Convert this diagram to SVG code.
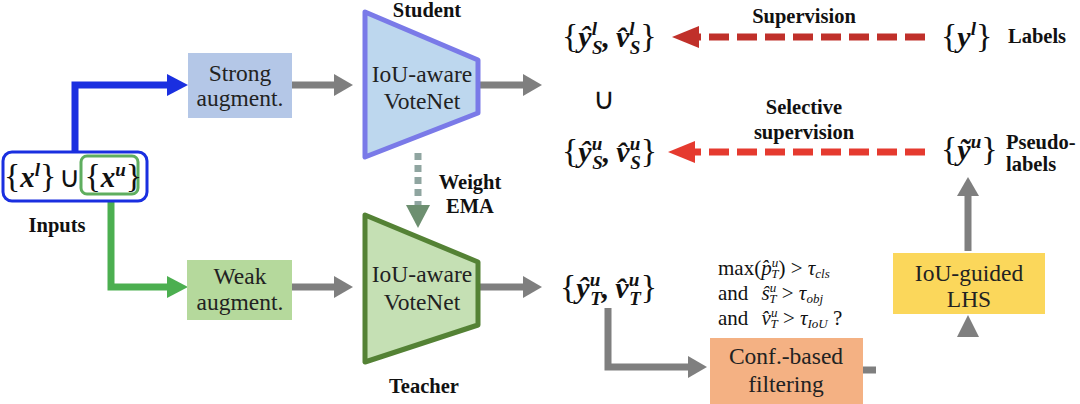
<svg xmlns="http://www.w3.org/2000/svg" width="1080" height="404" viewBox="0 0 1080 404">
<style>
.lbl{font-family:"Liberation Serif",serif;font-weight:bold;font-size:20.5px;fill:#111}
.box{font-family:"Liberation Serif",serif;font-size:23.5px;fill:#222}
.m{font-family:"Liberation Serif",serif;font-size:30px;font-weight:bold;font-style:italic;fill:#111}
.mi{font-family:"Liberation Serif",serif;font-size:29px;font-weight:bold;font-style:italic;fill:#111}
.br{font-weight:normal;font-style:normal;font-size:34px}
.op{font-weight:normal;font-style:normal}
.sc{font-size:19px}
.c{font-family:"Liberation Serif",serif;font-size:21px;fill:#111}
.ci{font-style:italic}
.cs{font-style:italic;font-size:13px}
.g{stroke:#7f7f7f;stroke-width:7;fill:none}
.rd{stroke-width:7;stroke-dasharray:20 8;fill:none}
</style>
<defs>
<marker id="ag" markerUnits="userSpaceOnUse" markerWidth="20" markerHeight="24" refX="0" refY="12" orient="auto"><path d="M0,1 L19,12 L0,23 Z" fill="#7f7f7f"/></marker>
<marker id="ab" markerUnits="userSpaceOnUse" markerWidth="22" markerHeight="24" refX="0" refY="12" orient="auto"><path d="M0,1 L21,12 L0,23 Z" fill="#1a2fe0"/></marker>
<marker id="agr" markerUnits="userSpaceOnUse" markerWidth="22" markerHeight="24" refX="0" refY="12" orient="auto"><path d="M0,1 L21,12 L0,23 Z" fill="#4caf50"/></marker>
<marker id="ar1" markerUnits="userSpaceOnUse" markerWidth="28" markerHeight="24" refX="0" refY="12" orient="auto"><path d="M0,1 L27,12 L0,23 Z" fill="#c0302a"/></marker>
<marker id="ar2" markerUnits="userSpaceOnUse" markerWidth="28" markerHeight="24" refX="0" refY="12" orient="auto"><path d="M0,1 L27,12 L0,23 Z" fill="#e53a2f"/></marker>
</defs>
<rect width="1080" height="404" fill="#fff"/>

<g id="connectors">
<polyline points="75,152 75,85 167,85" stroke="#1a2fe0" stroke-width="7" fill="none" marker-end="url(#ab)"/>
<polyline points="111,194 111,287 167,287" stroke="#4caf50" stroke-width="7" fill="none" marker-end="url(#agr)"/>
<line x1="292" y1="85" x2="334" y2="85" class="g" marker-end="url(#ag)"/>
<line x1="292" y1="287" x2="334" y2="287" class="g" marker-end="url(#ag)"/>
<line x1="478" y1="85" x2="523" y2="85" class="g" marker-end="url(#ag)"/>
<line x1="478" y1="287" x2="523" y2="287" class="g" marker-end="url(#ag)"/>
<line x1="418" y1="153" x2="418" y2="205" stroke="#8fa5a0" stroke-width="7" stroke-dasharray="7 5" fill="none"/>
<polygon points="406,205 430,205 418,228" fill="#6d8f70"/>
<polyline points="608,308 608,367 688,367" class="g" marker-end="url(#ag)"/>
<line x1="863" y1="370" x2="876" y2="370" class="g"/>
<polygon points="957,337 979,337 968,315" fill="#7f7f7f"/>
<line x1="968" y1="251" x2="968" y2="196" class="g" marker-end="url(#ag)"/>
<line x1="925" y1="37" x2="699" y2="37" class="rd" stroke="#c0302a" marker-end="url(#ar1)"/>
<line x1="925" y1="152" x2="695" y2="152" class="rd" stroke="#e53a2f" marker-end="url(#ar2)"/>
</g>

<g id="inputs">
<rect x="3" y="152" width="144" height="49" rx="9" fill="#fff" stroke="#1a2fe0" stroke-width="3"/>
<rect x="81" y="156" width="57" height="38" rx="6" fill="none" stroke="#5fae5f" stroke-width="3"/>
<text x="4" y="187" class="mi"><tspan class="br">{</tspan><tspan>x</tspan><tspan class="sc" dy="-11">l</tspan><tspan class="br" dy="11">}</tspan><tspan class="op" dx="3">∪</tspan><tspan class="br" dx="4">{</tspan><tspan>x</tspan><tspan class="sc" dy="-11">u</tspan><tspan class="br" dy="11">}</tspan></text>
<text x="57" y="232" class="lbl" text-anchor="middle">Inputs</text>
</g>

<g id="strong">
<rect x="188" y="53" width="104" height="65" fill="#b4c7e7"/>
<text x="240" y="81" class="box" text-anchor="middle">Strong</text>
<text x="240" y="106" class="box" text-anchor="middle">augment.</text>
</g>

<g id="weak">
<rect x="187" y="260" width="105" height="60" fill="#b5d99c"/>
<text x="240" y="284" class="box" text-anchor="middle">Weak</text>
<text x="240" y="310" class="box" text-anchor="middle">augment.</text>
</g>

<g id="student">
<polygon points="365,12 478,60 478,113 365,157" fill="#bdd7ee" stroke="#7a7ae8" stroke-width="5" stroke-linejoin="round"/>
<text x="422" y="82" class="box" text-anchor="middle">IoU-aware</text>
<text x="422" y="109" class="box" text-anchor="middle">VoteNet</text>
<text x="427" y="17" class="lbl" text-anchor="middle">Student</text>
</g>

<g id="ema">
<text x="470" y="189" class="lbl" text-anchor="middle">Weight</text>
<text x="470" y="213" class="lbl" text-anchor="middle">EMA</text>
</g>

<g id="teacher">
<polygon points="365,215 478,262 478,325 365,362" fill="#c5e0b4" stroke="#548235" stroke-width="5" stroke-linejoin="round"/>
<text x="422" y="282" class="box" text-anchor="middle">IoU-aware</text>
<text x="422" y="310" class="box" text-anchor="middle">VoteNet</text>
<text x="424" y="393" class="lbl" text-anchor="middle">Teacher</text>
</g>

<g id="pred-sl">
<text x="562" y="47" class="m"><tspan class="br">{</tspan><tspan>ŷ</tspan><tspan class="sc" dy="-12">l</tspan><tspan class="sc" dx="-5" dy="19">S</tspan><tspan dy="-7">,</tspan><tspan dx="6">v̂</tspan><tspan class="sc" dy="-12">l</tspan><tspan class="sc" dx="-5" dy="19">S</tspan><tspan class="br" dy="-7">}</tspan></text>
</g>
<g id="union"><text x="604" y="109" class="m op" text-anchor="middle" style="font-weight:normal;font-style:normal">∪</text></g>
<g id="pred-su">
<text x="562" y="162" class="m"><tspan class="br">{</tspan><tspan>ŷ</tspan><tspan class="sc" dy="-12">u</tspan><tspan class="sc" dx="-10" dy="19">S</tspan><tspan dy="-7">,</tspan><tspan dx="6">v̂</tspan><tspan class="sc" dy="-12">u</tspan><tspan class="sc" dx="-10" dy="19">S</tspan><tspan class="br" dy="-7">}</tspan></text>
</g>
<g id="pred-t">
<text x="560" y="298" class="m"><tspan class="br">{</tspan><tspan>ŷ</tspan><tspan class="sc" dy="-12">u</tspan><tspan class="sc" dx="-10" dy="19">T</tspan><tspan dy="-7">,</tspan><tspan dx="6">v̂</tspan><tspan class="sc" dy="-12">u</tspan><tspan class="sc" dx="-10" dy="19">T</tspan><tspan class="br" dy="-7">}</tspan></text>
</g>

<g id="labels">
<text x="941" y="47" class="m"><tspan class="br">{</tspan><tspan>y</tspan><tspan class="sc" dy="-12">l</tspan><tspan class="br" dy="12">}</tspan></text>
<text x="1008" y="43" class="lbl">Labels</text>
<text x="804" y="23" class="lbl" text-anchor="middle">Supervision</text>
</g>

<g id="pseudo">
<text x="941" y="160" class="m"><tspan class="br">{</tspan><tspan>ỹ</tspan><tspan class="sc" dy="-12">u</tspan><tspan class="br" dy="12">}</tspan></text>
<text x="1006" y="149" class="lbl">Pseudo-</text>
<text x="1006" y="171" class="lbl">labels</text>
<text x="804" y="114" class="lbl" text-anchor="middle">Selective</text>
<text x="804" y="139" class="lbl" text-anchor="middle">supervision</text>
</g>

<g id="lhs">
<rect x="893" y="253" width="152" height="61" fill="#fbd75b"/>
<text x="969" y="281" class="box" text-anchor="middle">IoU-guided</text>
<text x="969" y="307" class="box" text-anchor="middle">LHS</text>
</g>

<g id="conf">
<rect x="710" y="338" width="153" height="66" fill="#f4b183"/>
<text x="786" y="364" class="box" text-anchor="middle">Conf.-based</text>
<text x="786" y="392" class="box" text-anchor="middle">filtering</text>
</g>

<g id="cond">
<text x="718" y="275" class="c">max(<tspan class="ci">p̂</tspan><tspan class="cs" dy="-8">u</tspan><tspan class="cs" dx="-7" dy="11">T</tspan><tspan dy="-3">) &gt; </tspan><tspan class="ci">τ</tspan><tspan class="cs" dy="3">cls</tspan></text>
<text x="718" y="300" class="c">and  <tspan class="ci" dx="8">ŝ</tspan><tspan class="cs" dy="-8">u</tspan><tspan class="cs" dx="-7" dy="11">T</tspan><tspan dy="-3"> &gt; </tspan><tspan class="ci">τ</tspan><tspan class="cs" dy="3">obj</tspan></text>
<text x="718" y="325" class="c">and  <tspan class="ci" dx="8">v̂</tspan><tspan class="cs" dy="-8">u</tspan><tspan class="cs" dx="-7" dy="11">T</tspan><tspan dy="-3"> &gt; </tspan><tspan class="ci">τ</tspan><tspan class="cs" dy="3">IoU</tspan><tspan dy="-3"> ?</tspan></text>
</g>
</svg>
